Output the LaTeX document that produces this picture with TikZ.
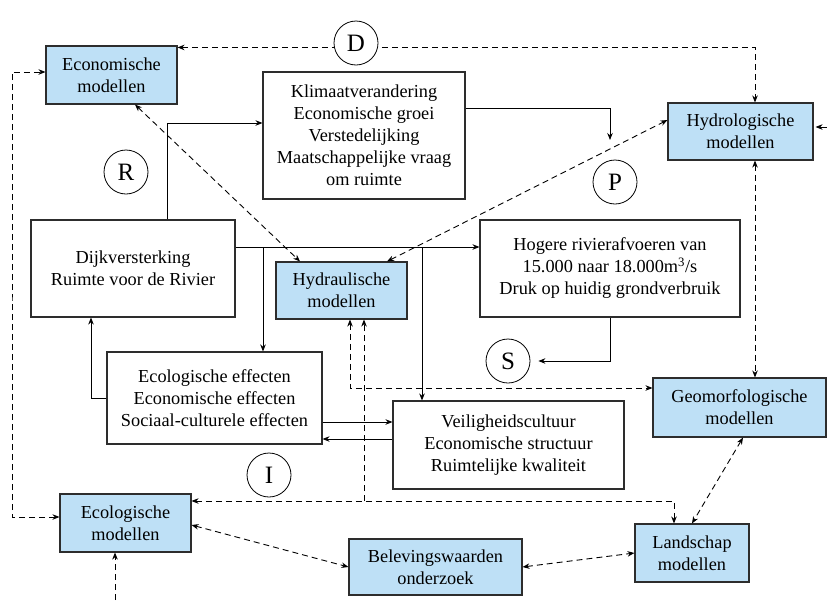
\documentclass[tikz,border=0pt]{standalone}
\usepackage{fontspec}
\setmainfont{Liberation Serif}
\usetikzlibrary{arrows.meta,calc}
\definecolor{boxblue}{RGB}{190,224,246}
\definecolor{edgegray}{RGB}{45,45,45}
\begin{document}
\begin{tikzpicture}[x=1pt,y=-1pt,
  box/.style={draw=edgegray,line width=1.1pt,align=center,inner sep=0pt,font=\fontsize{18.3}{22}\selectfont},
  model/.style={box,fill=boxblue},
  lab/.style={circle,draw=black,line width=0.8pt,fill=white,minimum size=44pt,inner sep=0pt,font=\fontsize{25}{28}\selectfont},
  arr/.style={line width=0.9pt,-{Stealth[length=7pt,width=5.5pt]}},
  darr/.style={arr,dash pattern=on 6pt off 4pt},
  dboth/.style={line width=0.9pt,dash pattern=on 6pt off 4pt,{Stealth[length=7pt,width=5.5pt]}-{Stealth[length=7pt,width=5.5pt]}},
]
\useasboundingbox (0,0) rectangle (827,600);

% boxes
\node[model,minimum width=131pt,minimum height=58pt] (eco) at (111.5,75) {Economische\\modellen};
\node[box,minimum width=202pt,minimum height=127pt] (klim) at (364,135.5) {Klimaatverandering\\Economische groei\\Verstedelijking\\Maatschappelijke vraag\\om ruimte};
\node[model,minimum width=145pt,minimum height=57pt] (hydrol) at (740.5,131.5) {Hydrologische\\modellen};
\node[box,minimum width=204pt,minimum height=97pt] (dijk) at (133,268.5) {Dijkversterking\\Ruimte voor de Rivier};
\node[model,minimum width=131pt,minimum height=57pt] (hydra) at (341.5,290.5) {Hydraulische\\modellen};
\node[box,minimum width=260pt,minimum height=97pt] (hog) at (610,268.5) {Hogere rivierafvoeren van\\15.000 naar 18.000m\textsuperscript{3}/s\\Druk op huidig grondverbruik};
\node[box,minimum width=215pt,minimum height=92pt] (ecoleff) at (214.5,398) {Ecologische effecten\\Economische effecten\\Sociaal-culturele effecten};
\node[box,minimum width=231pt,minimum height=88pt] (veil) at (508.5,445) {Veiligheidscultuur\\Economische structuur\\Ruimtelijke kwaliteit};
\node[model,minimum width=173pt,minimum height=59pt] (geo) at (739.5,407.5) {Geomorfologische\\modellen};
\node[model,minimum width=131pt,minimum height=58pt] (ecolmod) at (125.5,523) {Ecologische\\modellen};
\node[model,minimum width=173pt,minimum height=56pt] (belev) at (435.5,567) {Belevingswaarden\\onderzoek};
\node[model,minimum width=114pt,minimum height=58pt] (land) at (692,553) {Landschap\\modellen};

% helper coordinates
\coordinate (b1) at (263,247);
\coordinate (b2) at (422,247);
\coordinate (pin) at (610,140);
\coordinate (J) at (364,501);
\coordinate (L) at (12,300);
\coordinate (bot) at (115,600);
\coordinate (rt) at (827,127);

% solid connectors
\draw[arr] ([xshift=34pt]dijk.north) |- ([yshift=12.5pt]klim.west);
\draw[arr] ([yshift=27.5pt]klim.east) -| (pin);
\draw[arr] ([yshift=21.5pt]dijk.east) -- ([yshift=21.5pt]hog.west);
\draw[arr] (b1) -- (b1 |- ecoleff.north);
\draw[arr] (b2) -- (b2 |- veil.north);
\draw[arr] (ecoleff.west) -| ([xshift=-42pt]dijk.south);
\draw[arr] ([yshift=-24pt]ecoleff.east) -- ([yshift=-24pt]ecoleff.east -| veil.west);
\draw[arr] ([yshift=6pt]veil.west) -- ([yshift=6pt]veil.west -| ecoleff.east);
\draw[arr] (rt) -- ([xshift=2pt]rt -| hydrol.east);

% dashed connectors
\draw[dboth] ([yshift=-2pt]eco.north east) -| ([xshift=14.5pt]hydrol.north);
\draw[dboth] ([xshift=23.5pt]eco.south) -- ([xshift=-41.5pt]hydra.north);
\draw[dboth] ([xshift=45.5pt]hydra.north) -- ([yshift=11.5pt]hydrol.west);
\draw[dboth] ([xshift=14.5pt]hydrol.south) -- ([xshift=14.5pt]hydrol.south |- geo.north);
\draw[dboth] ([xshift=8.5pt]hydra.south) |- ([yshift=19.5pt]geo.west);
\draw[darr] (J) -- (J |- hydra.south);
\draw[dboth] ([yshift=22pt]ecolmod.east) -| ([xshift=-18pt]land.north);
\draw[dboth] ([yshift=6pt]ecolmod.west) -| (L) |- ([yshift=3pt]eco.west);
\draw[dboth] ([yshift=-2pt]ecolmod.east) -- (belev.west);
\draw[dboth] (belev.east) -- (land.west);
\draw[dboth] ([xshift=3.5pt]geo.south) -- (land.north);
\draw[darr] (bot) -- (bot |- ecolmod.south);

% circle labels
\node[lab] (D) at (356,43) {D};
\node[lab] (R) at (126,172) {R};
\node[lab] (P) at (615,182) {P};
\node[lab] (S) at (508,361) {S};
\node[lab] (I) at (269,475) {I};
\draw[arr,shorten >=8pt] (hog.south) |- (S.east);
\end{tikzpicture}
\end{document}
